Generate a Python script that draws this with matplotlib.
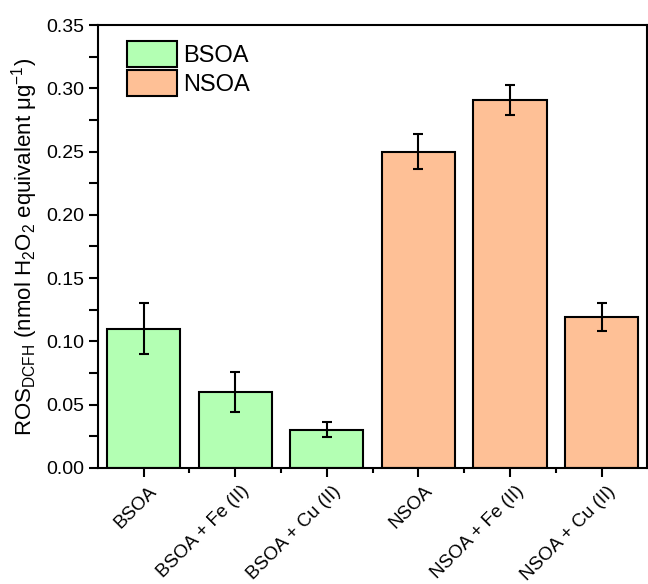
import matplotlib
matplotlib.use('Agg')
import matplotlib.pyplot as plt
import matplotlib.transforms as mtransforms
from matplotlib.patches import Patch
from matplotlib.ticker import MultipleLocator
import numpy as np

plt.rcParams['font.family'] = ['Liberation Sans', 'DejaVu Sans']
plt.rcParams['mathtext.fontset'] = 'custom'
plt.rcParams['mathtext.rm'] = 'Liberation Sans'
plt.rcParams['mathtext.it'] = 'Liberation Sans'

# ROS yield per sample, with standard deviations
samples = ['BSOA', 'BSOA + Fe (II)', 'BSOA + Cu (II)',
           'NSOA', 'NSOA + Fe (II)', 'NSOA + Cu (II)']
ros = [0.110, 0.060, 0.030, 0.250, 0.291, 0.119]
ros_err = [0.020, 0.016, 0.006, 0.014, 0.012, 0.011]
groups = ['BSOA', 'BSOA', 'BSOA', 'NSOA', 'NSOA', 'NSOA']

colors = {'BSOA': '#b3ffb3', 'NSOA': '#fec096'}

fig = plt.figure(figsize=(6.48, 5.84), dpi=100)
ax = fig.add_axes([0.151, 0.199, 0.848, 0.758])

x = np.arange(len(samples))
ax.bar(x, ros, width=0.8, color=[colors[g] for g in groups],
       edgecolor='black', linewidth=1.5, zorder=2)
ax.errorbar(x, ros, yerr=ros_err, fmt='none', ecolor='black',
            elinewidth=1.5, capsize=3.5, capthick=1.5, zorder=3)

ax.set_xlim(-0.5, 5.5)
ax.set_ylim(0, 0.35)
ax.yaxis.set_major_locator(MultipleLocator(0.05))
ax.yaxis.set_minor_locator(MultipleLocator(0.025))
ax.yaxis.set_major_formatter(matplotlib.ticker.FormatStrFormatter('%.2f'))
ax.set_xticks(x)
ax.set_xticks(x[:-1] + 0.5, minor=True)

ax.tick_params(axis='both', which='major', direction='out', length=6.5,
               width=1.5, labelsize=14)
ax.tick_params(axis='y', which='minor', direction='out', length=6.5, width=1.5)
ax.tick_params(axis='x', which='minor', direction='out', length=3.5, width=1.5)
for s in ax.spines.values():
    s.set_linewidth(1.5)

ax.set_xticklabels(samples, rotation=45, ha='right', va='top',
                   rotation_mode='anchor', fontsize=13.5)
# nudge the slanted labels a little to the right (after tick_params, which resets transforms)
shift = mtransforms.ScaledTranslation(0.05, -0.01, fig.dpi_scale_trans)
for lab in ax.get_xticklabels():
    lab.set_transform(lab.get_transform() + shift)

ax.set_ylabel(r'ROS$_{\mathrm{DCFH}}$ (nmol H$_2$O$_2$ equivalent $\mu$g$^{-1}$)',
              fontsize=16, labelpad=4)

handles = [Patch(facecolor=colors['BSOA'], edgecolor='black', linewidth=1.5, label='BSOA'),
           Patch(facecolor=colors['NSOA'], edgecolor='black', linewidth=1.5, label='NSOA')]
ax.legend(handles=handles, loc='upper left', bbox_to_anchor=(0.028, 0.995),
          frameon=False, fontsize=17, handlelength=2.1, handleheight=1.3,
          handletextpad=0.25, labelspacing=0.12, borderaxespad=0.2)

fig.savefig('out.png', dpi=100)
